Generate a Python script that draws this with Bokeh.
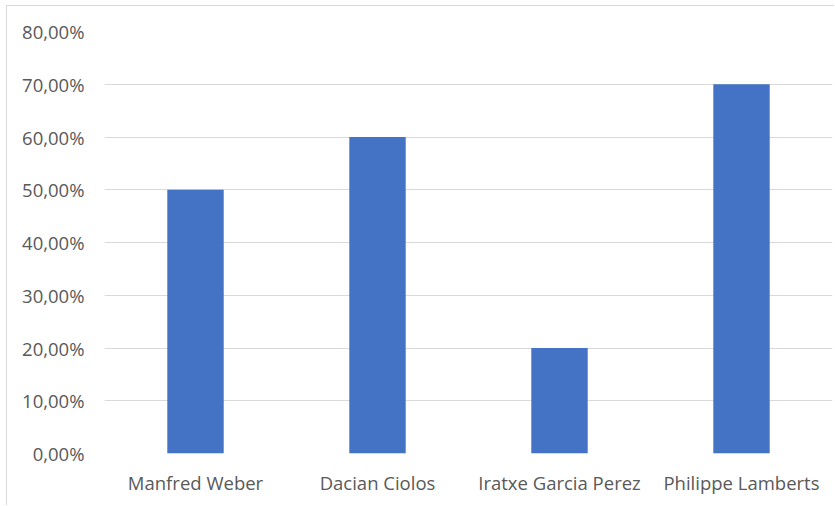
from bokeh.plotting import figure
from bokeh.models import FixedTicker
from bokeh.embed import file_html
from bokeh.resources import INLINE

# Candidates and their share of support
candidates = ["Manfred Weber", "Dacian Ciolos", "Iratxe Garcia Perez", "Philippe Lamberts"]
shares = [0.50, 0.60, 0.20, 0.70]

# Value axis ticks and their labels (comma decimal separator)
y_ticks = [0.0, 0.1, 0.2, 0.3, 0.4, 0.5, 0.6, 0.7, 0.8]
y_tick_labels = ["0,00%", "10,00%", "20,00%", "30,00%", "40,00%",
                 "50,00%", "60,00%", "70,00%", "80,00%"]

BAR_COLOR = "#4472C4"
GRID_COLOR = "#D9D9D9"
TEXT_COLOR = "#595959"
FONT = "Open Sans"

p = figure(
    x_range=candidates,
    y_range=(0, 0.8),
    width=828,
    height=500,
    output_backend="svg",
    toolbar_location=None,
    min_border_left=97,
    min_border_right=3,
    min_border_top=25,
    min_border_bottom=53,
)
p.margin = (5, 0, 0, 6)
p.styles = {"border-left": "1px solid #D9D9D9", "border-top": "1px solid #D9D9D9"}

p.vbar(x=candidates, top=shares, width=0.31, color=BAR_COLOR, line_color=None)

p.x_range.range_padding = 0
p.outline_line_color = None
p.background_fill_color = "white"
p.border_fill_color = "white"

# Horizontal gridlines only
p.xgrid.grid_line_color = None
p.ygrid.grid_line_color = GRID_COLOR
p.ygrid.grid_line_width = 1

p.yaxis.ticker = FixedTicker(ticks=y_ticks)
p.yaxis.major_label_overrides = {t: lab for t, lab in zip(y_ticks, y_tick_labels)}

for ax in (p.xaxis, p.yaxis):
    ax.axis_line_color = None
    ax.major_tick_line_color = None
    ax.minor_tick_line_color = None
    ax.major_label_text_color = TEXT_COLOR
    ax.major_label_text_font = FONT
    ax.major_label_text_font_size = "18.5px"

p.yaxis.major_label_standoff = 14
p.xaxis.major_label_standoff = 10

open("out.html", "w").write(file_html(p, INLINE))
